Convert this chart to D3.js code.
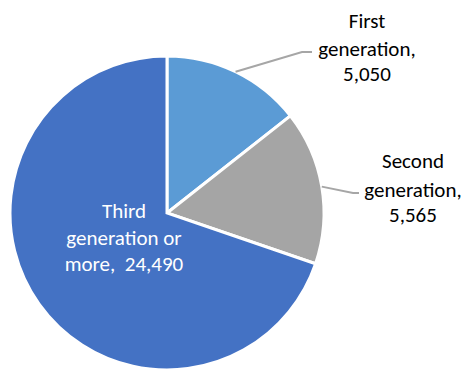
<!DOCTYPE html>
<html><head><meta charset="utf-8">
<script src="https://cdn.jsdelivr.net/npm/d3@7"></script>
<style>html,body{margin:0;padding:0;background:#fff;overflow:hidden}</style>
</head><body>
<svg id="chart" width="464" height="369"></svg>
<script>
const categories = ["First generation,", "Second generation,", "Third generation or more,"];
const values = [5050, 5565, 24490];
const valueLabels = ["5,050", "5,565", "24,490"];
const colors = ["#5B9BD5", "#A5A5A5", "#4472C4"];

const svg = d3.select("#chart");
const cx = 167, cy = 213, r = 157;
const g = svg.append("g").attr("transform", `translate(${cx},${cy})`);
const pie = d3.pie().sort(null).value(d => d)(values);
const arc = d3.arc().innerRadius(0).outerRadius(r);

g.selectAll("path").data(pie).enter().append("path")
  .attr("d", arc).attr("fill", (d, i) => colors[i])
  .attr("stroke", "#fff").attr("stroke-width", 3).attr("stroke-linejoin", "miter");

const font = "Carlito, Calibri, Lato, sans-serif";
const fs = 21;

function leader(d, p1, p2) {
  const a = (d.startAngle + d.endAngle) / 2;
  const x0 = Math.sin(a) * r, y0 = -Math.cos(a) * r;
  g.append("polyline")
    .attr("points", [[x0, y0], [p1[0] - cx, p1[1] - cy], [p2[0] - cx, p2[1] - cy]].map(p => p.join(",")).join(" "))
    .attr("fill", "none").attr("stroke", "#A6A6A6").attr("stroke-width", 2);
}
leader(pie[0], [302, 52], [312, 52]);
leader(pie[1], [353, 193], [359, 193]);

function label(lines, x, ys, color) {
  const t = svg.append("text").attr("font-family", font).attr("font-size", fs)
    .attr("fill", color).attr("text-anchor", "middle");
  lines.forEach((s, i) => t.append("tspan").attr("x", x).attr("y", ys[i]).text(s));
}
label(["First", "generation,", valueLabels[0]], 367, [28, 56, 81], "#000");
label(["Second", "generation,", valueLabels[1]], 413, [168, 197, 222], "#000");
label(["Third", "generation or", "more,\u00a0 " + valueLabels[2]], 124, [218, 245, 271], "#fff");
</script>
</body></html>
